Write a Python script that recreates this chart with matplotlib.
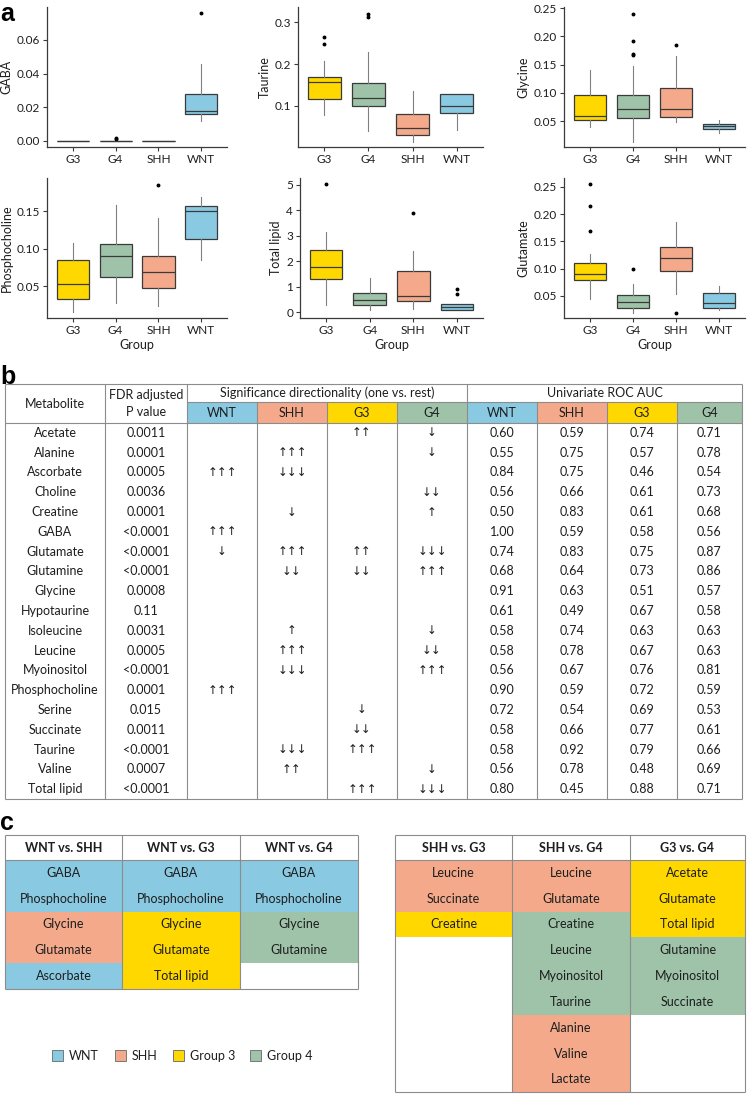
import numpy as np
import matplotlib.pyplot as plt
from matplotlib.patches import Rectangle

W, H = 748, 1094
plt.rcParams['font.family'] = ['Lato', 'DejaVu Sans']

groups = ['G3', 'G4', 'SHH', 'WNT']
colors = {'G3': '#FFD800', 'G4': '#9EC3A9', 'SHH': '#F4A98A', 'WNT': '#89CAE2'}
line_col = '#8c8c8c'
txt_col = '#1e1e1e'

# ---- panel a: box summaries (whislo, q1, med, q3, whishi, fliers) for G3, G4, SHH, WNT
gaba = [(0, 0, 0, 0, 0, []),
        (0, 0, 0, 0, 0, [0.0010, 0.0018]),
        (0, 0, 0, 0, 0, []),
        (0.012, 0.016, 0.018, 0.028, 0.046, [0.076])]
taurine = [(0.078, 0.117, 0.157, 0.169, 0.208, [0.248, 0.265]),
           (0.040, 0.100, 0.119, 0.154, 0.228, [0.312, 0.320]),
           (0.015, 0.030, 0.047, 0.080, 0.135, []),
           (0.043, 0.083, 0.100, 0.128, 0.128, [])]
glycine = [(0.039, 0.053, 0.060, 0.096, 0.141, []),
           (0.013, 0.056, 0.071, 0.096, 0.148, [0.167, 0.169, 0.191, 0.239]),
           (0.049, 0.057, 0.071, 0.108, 0.165, [0.184]),
           (0.030, 0.036, 0.041, 0.045, 0.053, [])]
phosphocholine = [(0.015, 0.033, 0.053, 0.085, 0.108, []),
                  (0.028, 0.062, 0.090, 0.106, 0.158, []),
                  (0.023, 0.047, 0.069, 0.090, 0.141, [0.185]),
                  (0.085, 0.113, 0.150, 0.157, 0.169, [])]
total_lipid = [(0.28, 1.30, 1.78, 2.45, 3.15, [5.05]),
               (0.07, 0.30, 0.47, 0.76, 1.33, []),
               (0.12, 0.43, 0.65, 1.63, 2.42, [3.90]),
               (0.08, 0.09, 0.20, 0.32, 0.32, [0.70, 0.92])]
glutamate = [(0.044, 0.079, 0.090, 0.111, 0.127, [0.169, 0.215, 0.255]),
             (0.019, 0.028, 0.039, 0.052, 0.072, [0.099]),
             (0.053, 0.095, 0.119, 0.140, 0.186, [0.019]),
             (0.024, 0.028, 0.038, 0.056, 0.069, [])]

panels = [
    ('GABA', gaba, (-0.0036, 0.0796), [0, 0.02, 0.04, 0.06], '{:.2f}', (47, 7, 227, 147), False),
    ('Taurine', taurine, (0.002, 0.336), [0.1, 0.2, 0.3], '{:.1f}', (298, 7, 483, 147), False),
    ('Glycine', glycine, (0.0044, 0.252), [0.05, 0.10, 0.15, 0.20, 0.25], '{:.2f}', (564, 7, 745, 147), False),
    ('Phosphocholine', phosphocholine, (0.0076, 0.194), [0.05, 0.10, 0.15], '{:.2f}', (47, 178, 227, 318), True),
    ('Total lipid', total_lipid, (-0.23, 5.27), [0, 1, 2, 3, 4, 5], '{:.0f}', (300, 178, 483, 318), True),
    ('Glutamate', glutamate, (0.0096, 0.2665), [0.05, 0.10, 0.15, 0.20, 0.25], '{:.2f}', (564, 178, 745, 318), True),
]

# ---- panel b: one-vs-rest table
metabolites = ['Acetate', 'Alanine', 'Ascorbate', 'Choline', 'Creatine', 'GABA', 'Glutamate',
               'Glutamine', 'Glycine', 'Hypotaurine', 'Isoleucine', 'Leucine', 'Myoinositol',
               'Phosphocholine', 'Serine', 'Succinate', 'Taurine', 'Valine', 'Total lipid']
fdr = ['0.0011', '0.0001', '0.0005', '0.0036', '0.0001', '<0.0001', '<0.0001', '<0.0001',
       '0.0008', '0.11', '0.0031', '0.0005', '<0.0001', '0.0001', '0.015', '0.0011',
       '<0.0001', '0.0007', '<0.0001']
table_groups = ['WNT', 'SHH', 'G3', 'G4']
# direction: +n = n up arrows, -n = n down arrows
dir_wnt = [0, 0, 3, 0, 0, 3, -1, 0, 0, 0, 0, 0, 0, 3, 0, 0, 0, 0, 0]
dir_shh = [0, 3, -3, 0, -1, 0, 3, -2, 0, 0, 1, 3, -3, 0, 0, 0, -3, 2, 0]
dir_g3 = [2, 0, 0, 0, 0, 0, 2, -2, 0, 0, 0, 0, 0, 0, -1, -2, 3, 0, 3]
dir_g4 = [-1, -1, 0, -2, 1, 0, -3, 3, 0, 0, -1, -2, 3, 0, 0, 0, 0, -1, -3]
auc_wnt = [0.60, 0.55, 0.84, 0.56, 0.50, 1.00, 0.74, 0.68, 0.91, 0.61, 0.58, 0.58, 0.56, 0.90, 0.72, 0.58, 0.58, 0.56, 0.80]
auc_shh = [0.59, 0.75, 0.75, 0.66, 0.83, 0.59, 0.83, 0.64, 0.63, 0.49, 0.74, 0.78, 0.67, 0.59, 0.54, 0.66, 0.92, 0.78, 0.45]
auc_g3 = [0.74, 0.57, 0.46, 0.61, 0.61, 0.58, 0.75, 0.73, 0.51, 0.67, 0.63, 0.67, 0.76, 0.72, 0.69, 0.77, 0.79, 0.48, 0.88]
auc_g4 = [0.71, 0.78, 0.54, 0.73, 0.68, 0.56, 0.87, 0.86, 0.57, 0.58, 0.63, 0.63, 0.81, 0.59, 0.53, 0.61, 0.66, 0.69, 0.71]

# ---- panel c: pairwise comparisons (metabolite, group in which it is higher)
pair_titles_left = ['WNT vs. SHH', 'WNT vs. G3', 'WNT vs. G4']
wnt_shh = ['GABA', 'Phosphocholine', 'Glycine', 'Glutamate', 'Ascorbate']
wnt_shh_grp = ['WNT', 'WNT', 'SHH', 'SHH', 'WNT']
wnt_g3 = ['GABA', 'Phosphocholine', 'Glycine', 'Glutamate', 'Total lipid']
wnt_g3_grp = ['WNT', 'WNT', 'G3', 'G3', 'G3']
wnt_g4 = ['GABA', 'Phosphocholine', 'Glycine', 'Glutamine']
wnt_g4_grp = ['WNT', 'WNT', 'G4', 'G4']
pair_titles_right = ['SHH vs. G3', 'SHH vs. G4', 'G3 vs. G4']
shh_g3 = ['Leucine', 'Succinate', 'Creatine']
shh_g3_grp = ['SHH', 'SHH', 'G3']
shh_g4 = ['Leucine', 'Glutamate', 'Creatine', 'Leucine', 'Myoinositol', 'Taurine', 'Alanine', 'Valine', 'Lactate']
shh_g4_grp = ['SHH', 'SHH', 'G4', 'G4', 'G4', 'G4', 'SHH', 'SHH', 'SHH']
g3_g4 = ['Acetate', 'Glutamate', 'Total lipid', 'Glutamine', 'Myoinositol', 'Succinate']
g3_g4_grp = ['G3', 'G3', 'G3', 'G4', 'G4', 'G4']

legend_labels = ['WNT', 'SHH', 'Group 3', 'Group 4']
legend_keys = ['WNT', 'SHH', 'G3', 'G4']

FS = 9  # table text size

fig = plt.figure(figsize=(W / 100, H / 100), dpi=100)


def px_axes(l, t, r, b):
    return fig.add_axes([l / W, 1 - b / H, (r - l) / W, (b - t) / H])


# ---------------- panel a ----------------
for name, data, ylim, yticks, fmt, box, show_xlab in panels:
    ax = px_axes(*box)
    stats = []
    for g, (lo, q1, med, q3, hi, fl) in zip(groups, data):
        stats.append(dict(label=g, whislo=lo, q1=q1, med=med, q3=q3, whishi=hi, fliers=fl))
    bp = ax.bxp(stats, positions=[1, 2, 3, 4], widths=0.75, patch_artist=True, showcaps=False,
                boxprops=dict(edgecolor='#3a3a3a', linewidth=0.9),
                medianprops=dict(color='#3a3a3a', linewidth=0.9),
                whiskerprops=dict(color='#808080', linewidth=0.8),
                flierprops=dict(marker='o', markersize=1.8, markerfacecolor='black',
                                markeredgecolor='black'))
    for patch, g in zip(bp['boxes'], groups):
        patch.set_facecolor(colors[g])
    ax.set_xlim(0.4, 4.6)
    ax.set_ylim(*ylim)
    ax.set_yticks(yticks)
    ax.set_yticklabels([fmt.format(v) for v in yticks])
    ax.set_ylabel(name, fontsize=9, color=txt_col, labelpad=3)
    if show_xlab:
        ax.set_xlabel('Group', fontsize=9, color=txt_col, labelpad=2)
    for s in ['top', 'right']:
        ax.spines[s].set_visible(False)
    for s in ['left', 'bottom']:
        ax.spines[s].set_color('#3a3a3a')
        ax.spines[s].set_linewidth(0.9)
    ax.tick_params(length=3, width=0.8, color='#3a3a3a', labelsize=8.5, labelcolor=txt_col, pad=2)
    ax.set_facecolor('none')

# ---------------- overlay for tables ----------------
ov = fig.add_axes([0, 0, 1, 1])
ov.set_xlim(0, W)
ov.set_ylim(H, 0)
ov.axis('off')
ov.patch.set_alpha(0)


def hline(y, x0, x1, lw=0.8):
    ov.plot([x0, x1], [y, y], color=line_col, lw=lw, solid_capstyle='butt')


def vline(x, y0, y1, lw=0.8):
    ov.plot([x, x], [y0, y1], color=line_col, lw=lw, solid_capstyle='butt')


def txt(x, y, s, **kw):
    kw.setdefault('fontsize', FS)
    kw.setdefault('color', txt_col)
    ov.text(x, y, s, ha='center', va='center', **kw)


# panel letters
ov.text(0, 14, 'a', fontsize=18, fontweight='bold', family='Liberation Sans', va='center')
ov.text(0, 377, 'b', fontsize=18, fontweight='bold', family='Liberation Sans', va='center')
ov.text(0, 823, 'c', fontsize=18, fontweight='bold', family='Liberation Sans', va='center')

# ---------------- panel b ----------------
edges = [5, 105, 187, 257, 327, 397, 467, 537, 607, 677, 742]
t_top, t_h1, t_h2, t_bot = 384, 402, 423, 799
row_h = (t_bot - t_h2) / len(metabolites)

for k, g in enumerate(table_groups):
    for off in (2, 6):
        x0, x1 = edges[off + k], edges[off + k + 1]
        ov.add_patch(Rectangle((x0, t_h1), x1 - x0, t_h2 - t_h1, facecolor=colors[g], edgecolor='none'))
        txt((x0 + x1) / 2, (t_h1 + t_h2) / 2 + 0.5, g)

hline(t_top, edges[0], edges[-1])
hline(t_h1, edges[2], edges[-1])
hline(t_h2, edges[0], edges[-1])
hline(t_bot, edges[0], edges[-1])
for i, x in enumerate(edges):
    if i in (0, 1, 2, 6, 10):
        vline(x, t_top, t_bot)
    else:
        vline(x, t_h1, t_bot)

txt((edges[0] + edges[1]) / 2, (t_top + t_h2) / 2, 'Metabolite')
txt((edges[1] + edges[2]) / 2, 395, 'FDR adjusted')
txt((edges[1] + edges[2]) / 2, 412, 'P value')
txt((edges[2] + edges[6]) / 2, (t_top + t_h1) / 2, 'Significance directionality (one vs. rest)')
txt((edges[6] + edges[10]) / 2, (t_top + t_h1) / 2, 'Univariate ROC AUC')


def arrows(n):
    if n == 0:
        return ''
    return ('\u2191' if n > 0 else '\u2193') * abs(n)


dirs = [dir_wnt, dir_shh, dir_g3, dir_g4]
aucs = [auc_wnt, auc_shh, auc_g3, auc_g4]
for i, m in enumerate(metabolites):
    y = t_h2 + (i + 0.5) * row_h
    txt((edges[0] + edges[1]) / 2, y, m)
    txt((edges[1] + edges[2]) / 2, y, fdr[i])
    for k in range(4):
        txt((edges[2 + k] + edges[3 + k]) / 2, y, arrows(dirs[k][i]),
            family=['DejaVu Sans'], fontsize=8.5)
        txt((edges[6 + k] + edges[7 + k]) / 2, y, '{:.2f}'.format(aucs[k][i]))

# ---------------- panel c ----------------
c_top, c_head, c_row = 835, 860, 25.8


def pair_table(xedges, titles, cols, grps, nrows):
    bottom = c_head + nrows * c_row
    for j, (title, items, gs) in enumerate(zip(titles, cols, grps)):
        x0, x1 = xedges[j], xedges[j + 1]
        txt((x0 + x1) / 2, (c_top + c_head) / 2, title, fontweight='bold')
        for r, (item, g) in enumerate(zip(items, gs)):
            y0 = c_head + r * c_row
            ov.add_patch(Rectangle((x0, y0), x1 - x0, c_row, facecolor=colors[g], edgecolor='none'))
            txt((x0 + x1) / 2, y0 + c_row / 2, item)
    hline(c_top, xedges[0], xedges[-1])
    hline(c_head, xedges[0], xedges[-1])
    hline(bottom, xedges[0], xedges[-1])
    for x in xedges:
        vline(x, c_top, bottom)


pair_table([5, 122, 240, 358], pair_titles_left,
           [wnt_shh, wnt_g3, wnt_g4], [wnt_shh_grp, wnt_g3_grp, wnt_g4_grp], 5)
pair_table([395, 512, 630, 745], pair_titles_right,
           [shh_g3, shh_g4, g3_g4], [shh_g3_grp, shh_g4_grp, g3_g4_grp], 9)

# legend
leg_x = [52, 115, 173, 250]
for x, lab, key in zip(leg_x, legend_labels, legend_keys):
    ov.add_patch(Rectangle((x, 1050), 11, 11, facecolor=colors[key], edgecolor='#777777', lw=0.7))
    ov.text(x + 17, 1055.5, lab, fontsize=9, color=txt_col, va='center', ha='left')

fig.savefig('out.png', dpi=100)
